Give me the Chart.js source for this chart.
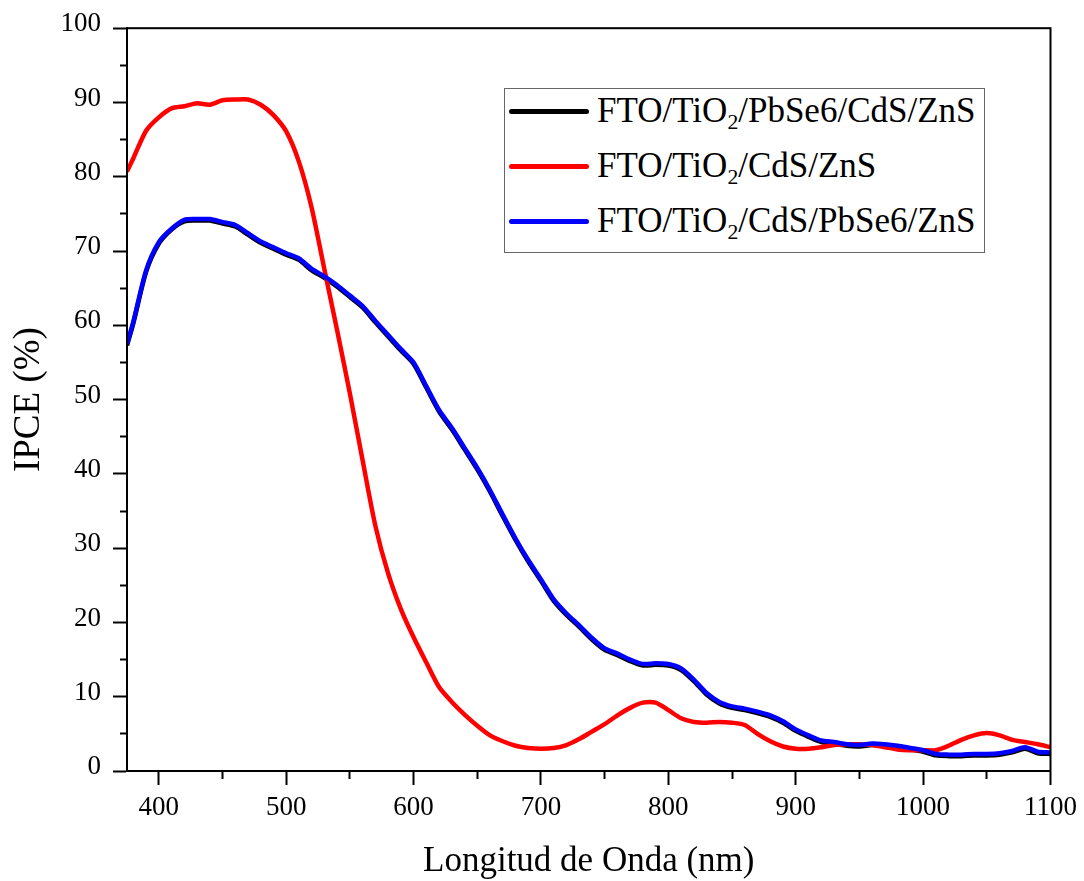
<!DOCTYPE html>
<html>
<head>
<meta charset="utf-8">
<script src="https://cdn.jsdelivr.net/npm/chart.js@4.4.1/dist/chart.umd.min.js"></script>
<style>
  html, body { margin: 0; padding: 0; background: #fff; }
  #wrap { position: relative; width: 1084px; height: 881px; }
  #legend {
    position: absolute; left: 504px; top: 88px; width: 481px; height: 165px;
    border: 1px solid #666; box-sizing: border-box; background: #fff;
    font-family: 'Liberation Serif', 'Times New Roman', serif; font-size: 35px; color: #000;
  }
  #legend .row { position: absolute; left: 0; height: 40px; line-height: 40px; white-space: nowrap; }
  #legend .swatch { position: absolute; left: 4px; top: 18px; width: 80px; height: 5px; border-radius: 3px; }
  #legend .txt { position: absolute; left: 92px; top: 0; }
  #legend sub { font-size: 0.62em; line-height: 0; vertical-align: -0.32em; }
</style>
</head>
<body>
<div id="wrap">
  <canvas id="ipceChart" width="1084" height="881"></canvas>
  <div id="legend"></div>
</div>
<script>
// longitud de onda (nm)
const wavelengths = [375, 380, 390, 400, 410, 420, 430, 440, 450, 460, 470, 480, 490, 500,
  510, 520, 530, 540, 550, 560, 570, 580, 590, 600, 610, 620, 630, 640, 650, 660, 670, 680,
  690, 700, 710, 720, 730, 740, 750, 760, 770, 780, 790, 800, 810, 820, 830, 840, 850, 860,
  870, 880, 890, 900, 910, 920, 930, 940, 950, 960, 970, 980, 990, 1000, 1010, 1020, 1030,
  1040, 1050, 1060, 1070, 1080, 1090, 1100];

// FTO/TiO2/PbSe6/CdS/ZnS
const ipcePbSeCdS = [57.3, 60.3, 67.2, 71.0, 72.9, 74.0, 74.1, 74.1, 73.7, 73.3, 72.2, 71.1, 70.3, 69.5,
  68.8, 67.4, 66.4, 65.2, 63.8, 62.4, 60.4, 58.5, 56.6, 54.8, 51.6, 48.4, 46.0, 43.3, 40.6, 37.6, 34.3, 31.1,
  28.2, 25.6, 22.9, 21.0, 19.4, 17.7, 16.3, 15.6, 14.8, 14.2, 14.3, 14.2, 13.6, 12.1, 10.3, 9.1, 8.5, 8.2,
  7.8, 7.3, 6.5, 5.4, 4.6, 3.9, 3.7, 3.4, 3.3, 3.5, 3.4, 3.2, 2.9, 2.6, 2.1, 2.0, 2.0,
  2.1, 2.1, 2.2, 2.5, 3.0, 2.4, 2.3];

// FTO/TiO2/CdS/ZnS
const ipceCdS = [80.7, 82.5, 86.2, 88.0, 89.2, 89.5, 89.9, 89.7, 90.3, 90.4, 90.4, 89.7, 88.3, 86.1,
  82.0, 75.8, 67.5, 59.3, 50.8, 41.8, 33.0, 26.6, 21.8, 18.0, 14.6, 11.3, 9.3, 7.6, 6.1, 4.8, 4.0, 3.4,
  3.1, 3.0, 3.1, 3.5, 4.3, 5.3, 6.3, 7.5, 8.5, 9.2, 9.2, 8.2, 7.1, 6.6, 6.5, 6.6, 6.5, 6.2,
  5.0, 4.0, 3.3, 3.0, 3.0, 3.2, 3.5, 3.6, 3.6, 3.5, 3.2, 2.9, 2.8, 2.8, 2.8, 3.4, 4.2,
  4.8, 5.1, 4.8, 4.2, 3.9, 3.6, 3.2];

// FTO/TiO2/CdS/PbSe6/ZnS
const ipceCdSPbSe = [57.5, 60.5, 67.4, 71.2, 73.0, 74.2, 74.3, 74.3, 73.9, 73.5, 72.4, 71.3, 70.5, 69.7,
  69.0, 67.6, 66.6, 65.4, 64.0, 62.6, 60.6, 58.7, 56.8, 55.0, 51.8, 48.6, 46.2, 43.5, 40.8, 37.8, 34.5, 31.3,
  28.4, 25.8, 23.1, 21.2, 19.6, 17.9, 16.5, 15.8, 15.0, 14.4, 14.5, 14.4, 13.8, 12.3, 10.5, 9.3, 8.7, 8.4,
  8.0, 7.5, 6.7, 5.6, 4.8, 4.1, 3.9, 3.6, 3.5, 3.7, 3.6, 3.4, 3.1, 2.8, 2.3, 2.2, 2.2,
  2.3, 2.3, 2.4, 2.7, 3.2, 2.6, 2.5];

// marcas de los ejes
const xTicks = [400, 450, 500, 550, 600, 650, 700, 750, 800, 850, 900, 950, 1000, 1050, 1100];
const yTicks = [0, 5, 10, 15, 20, 25, 30, 35, 40, 45, 50, 55, 60, 65, 70, 75, 80, 85, 90, 95, 100];

const seriesLabels = ['FTO/TiO₂/PbSe6/CdS/ZnS', 'FTO/TiO₂/CdS/ZnS', 'FTO/TiO₂/CdS/PbSe6/ZnS'];
const seriesColors = ['#000000', '#ff0000', '#0000ff'];

const toPoints = vals => wavelengths.map((w, i) => ({ x: w, y: vals[i] }));
const serif = "'Liberation Serif', 'Times New Roman', serif";

// marco completo alrededor del area de trazado
const frame = {
  id: 'frame',
  afterDraw(chart) {
    const { ctx, chartArea: a } = chart;
    ctx.save();
    ctx.strokeStyle = '#000';
    ctx.lineWidth = 2;
    ctx.strokeRect(a.left, a.top, a.right - a.left, a.bottom - a.top);
    ctx.restore();
  }
};

const series = [ipcePbSeCdS, ipceCdS, ipceCdSPbSe];

new Chart(document.getElementById('ipceChart'), {
  type: 'line',
  data: {
    datasets: series.map((vals, i) => ({
      label: seriesLabels[i],
      data: toPoints(vals),
      borderColor: seriesColors[i],
      borderWidth: 4.5,
      pointRadius: 0,
      tension: 0.25,
      fill: false,
      order: 3 - i
    }))
  },
  options: {
    responsive: false,
    animation: false,
    layout: { padding: { left: 0, right: 32, top: 23, bottom: 0 } },
    plugins: { legend: { display: false }, tooltip: { enabled: false } },
    scales: {
      x: {
        type: 'linear',
        min: 375, max: 1100,
        afterBuildTicks: s => { s.ticks = xTicks.map(v => ({ value: v })); },
        afterFit: s => { s.height = 110; },
        ticks: {
          autoSkip: false, maxRotation: 0, padding: 7,
          color: '#000', font: { family: serif, size: 27 },
          callback: v => (v % 100 === 0 ? v : '')
        },
        grid: {
          drawOnChartArea: false, tickLength: 14, tickWidth: 2, tickColor: '#000',
          tickBorderDash: c => (c.tick && c.tick.value % 100 !== 0 ? [7, 30] : [])
        },
        border: { color: '#000', width: 2 },
        title: {
          display: true, text: 'Longitud de Onda (nm)', color: '#000',
          font: { family: serif, size: 35, lineHeight: 1 }, padding: { top: 0, bottom: 2 }
        }
      },
      y: {
        min: 0, max: 100,
        afterBuildTicks: s => { s.ticks = yTicks.map(v => ({ value: v })); },
        afterFit: s => { s.width = 127; },
        ticks: {
          autoSkip: false, padding: 12, labelOffset: -4,
          color: '#000', font: { family: serif, size: 27 },
          callback: v => (v % 10 === 0 ? v : '')
        },
        grid: {
          drawOnChartArea: false, tickLength: 14, tickWidth: 2, tickColor: '#000',
          tickBorderDash: c => (c.tick && c.tick.value % 10 !== 0 ? [7, 7] : []),
          tickBorderDashOffset: 7
        },
        border: { color: '#000', width: 2 },
        title: {
          display: true, text: 'IPCE (%)', color: '#000',
          font: { family: serif, size: 37, lineHeight: 1 }, padding: { top: 11, bottom: 0 }
        }
      }
    }
  },
  plugins: [frame]
});

// leyenda con subindices
const legend = document.getElementById('legend');
seriesLabels.forEach((lab, i) => {
  const row = document.createElement('div');
  row.className = 'row';
  row.style.top = (2 + 55 * i) + 'px';
  const sw = document.createElement('div');
  sw.className = 'swatch';
  sw.style.background = seriesColors[i];
  const txt = document.createElement('span');
  txt.className = 'txt';
  txt.innerHTML = lab.replace('₂', '<sub>2</sub>');
  row.appendChild(sw);
  row.appendChild(txt);
  legend.appendChild(row);
});
</script>
</body>
</html>
